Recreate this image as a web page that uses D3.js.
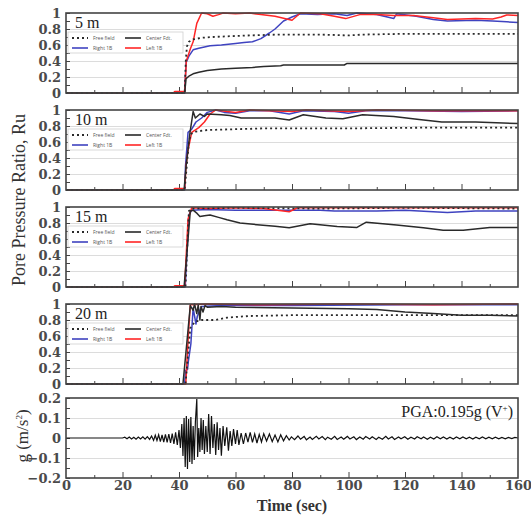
<!DOCTYPE html>
<meta charset="utf-8">
<script src="https://d3js.org/d3.v7.min.js"></script>
<style>
  body { margin: 0; background: #fff; }
  .tick text { font-family: "DejaVu Serif", serif; font-size: 13px; font-weight: bold; fill: #4a4a4a; }
</style>
<div id="chart"></div>
<script>

// time axis and labels
var timeTicks = [0, 20, 40, 60, 80, 100, 120, 140, 160];
var depths = ["5 m", "10 m", "15 m", "20 m"];
var ruTicks = [0, 0.2, 0.4, 0.6, 0.8, 1];
var accTicks = [-0.2, -0.1, 0, 0.1, 0.2];
var legendLabels = ["Free field", "Center Fdt.", "Right 1B", "Left 1B"];

// 5 m  [time (sec), Ru]
var ff5 = [[0,0],[42,0],[42.4,0.4],[42.8,0.58],[43.5,0.64],[45,0.67],[48,0.69],[52,0.7],[58,0.71],[65,0.72],[75,0.73],[90,0.73],[100,0.72],[105,0.73],[120,0.74],[140,0.74],[160,0.74]];
var cf5 = [[0,0],[42,0],[42.5,0.18],[43.5,0.21],[45,0.24],[47,0.26],[50,0.28],[55,0.3],[60,0.31],[66,0.32],[70,0.33],[76,0.34],[77,0.35],[98.5,0.35],[99.5,0.37],[160,0.37]];
var rb5 = [[0,0],[42,0],[42.5,0.38],[43.5,0.46],[45,0.54],[47,0.56],[51,0.59],[55,0.6],[60,0.62],[63,0.63],[66,0.64],[69,0.68],[72,0.75],[74,0.8],[77,0.9],[80,0.95],[83,0.99],[89,0.98],[95,0.99],[99.5,0.97],[103,1.0],[110,0.98],[116,0.93],[117,0.99],[124,0.96],[130,0.92],[135,0.9],[145,0.91],[151,0.9],[156,0.89],[160,0.88]];
var lb5 = [[0,0],[38,0],[38.5,0.02],[41.5,0.02],[42,0.01],[42.6,0.4],[44,0.55],[45,0.64],[46.3,0.87],[48,1.0],[50,0.99],[52,0.96],[54,0.98],[55.6,1.0],[60,0.99],[65,1.0],[69,0.98],[74,0.96],[80,0.91],[83,1.0],[90,0.99],[95,0.96],[99,0.93],[104,0.98],[110,0.98],[116,0.97],[123,0.97],[130,0.94],[135,0.92],[145,0.93],[151,0.925],[154,0.95],[156,0.975],[160,0.97]];

// 10 m
var ff10 = [[0,0],[42,0],[43.5,0.6],[44.2,0.7],[46,0.73],[50,0.75],[60,0.76],[70,0.77],[100,0.77],[130,0.78],[160,0.78]];
var cf10 = [[0,0],[41.8,0],[42.5,0.3],[43.9,0.72],[45,0.98],[45.8,0.9],[47.4,0.95],[49,0.92],[50,0.95],[55,0.94],[58,0.93],[62,0.9],[69,0.9],[74,0.9],[79,0.875],[84,0.94],[92,0.9],[98,0.89],[105,0.94],[116,0.92],[125,0.88],[133,0.85],[145,0.85],[160,0.83]];
var rb10 = [[0,0],[42,0],[42.3,0.3],[43.2,0.72],[44.5,0.76],[46,0.85],[48,0.9],[50,0.97],[53,1.0],[56,0.97],[60,0.96],[65,0.99],[72,0.99],[79,0.95],[84,0.99],[95,0.98],[100,0.96],[106,0.99],[120,0.99],[140,0.98],[160,0.99]];
var lb10 = [[0,0],[38,0],[38.5,0.02],[41.5,0.02],[42,0.01],[42.5,0.3],[43.2,0.5],[44.5,0.72],[47,0.78],[49,0.85],[51,0.95],[53,1.0],[57,0.98],[60,0.97],[65,1.0],[80,0.98],[85,1.0],[100,0.98],[110,1.0],[130,0.99],[160,0.99]];

// 15 m
var ff15 = [[0,0],[42.3,0],[43.5,0.95],[44.5,0.98],[60,0.99],[90,0.98],[120,0.99],[160,0.98]];
var cf15 = [[0,0],[41.8,0],[42.5,0.3],[44,0.95],[45,0.96],[46.4,0.92],[47.4,0.88],[49,0.89],[51,0.9],[54,0.87],[57,0.84],[61.6,0.8],[68.7,0.775],[74,0.76],[79,0.74],[86.4,0.79],[96,0.755],[103,0.745],[106.3,0.81],[117,0.775],[126.5,0.74],[133.5,0.71],[140.6,0.71],[150,0.745],[160,0.745]];
var rb15 = [[0,0],[42.2,0],[43.5,0.9],[44.5,0.96],[50,0.97],[60,0.96],[70,0.96],[90,0.96],[95,0.95],[110,0.95],[120,0.96],[135,0.93],[145,0.95],[160,0.95]];
var lb15 = [[0,0],[38,0],[38.5,0.015],[41.5,0.015],[42,0.01],[43.2,0.85],[44.5,0.99],[50,0.98],[60,0.99],[70,0.98],[79,0.94],[82,0.99],[100,0.99],[130,0.99],[160,0.99]];

// 20 m
var ff20 = [[0,0],[42.3,0],[44,0.7],[45.7,0.78],[48,0.8],[53,0.8],[57,0.83],[65,0.85],[80,0.86],[100,0.86],[130,0.86],[160,0.86]];
var cf20 = [[0,0],[41.4,0],[43,0.6],[44,0.98],[45,0.92],[45.5,1.0],[46.3,0.88],[46.8,0.99],[47.4,0.8],[47.8,0.97],[48.5,0.9],[49.2,0.98],[50,0.96],[55,0.97],[60,0.96],[80,0.95],[100,0.94],[110,0.93],[120,0.9],[130,0.88],[140,0.86],[150,0.86],[160,0.85]];
var rb20 = [[0,0],[42,0],[42.3,0.17],[43,0.18],[43.3,0.28],[44.2,0.5],[45,0.95],[46,0.75],[46.5,0.85],[48,0.97],[55,0.98],[80,0.98],[120,0.99],[160,0.99]];
var lb20 = [[0,0],[42.4,0],[43.3,0.6],[44,0.99],[50,1.0],[70,0.99],[100,1.0],[130,0.99],[160,1.0]];

// input acceleration [time (sec), g]
var accel = [[0,0],[20,0],[20.8,0.004],[21.6,-0.004],[22.4,0.005],[23.2,-0.005],[24,0.004],[24.8,-0.006],[25.6,0.005],[26.4,-0.005],[27.2,0.006],[28,-0.006],[28.8,0.007],[29.6,-0.007],
  [30.3,0.01],[31,-0.012],[31.6,0.014],[32.2,-0.012],[32.8,0.016],[33.4,-0.018],[34,0.015],[34.6,-0.02],[35.2,0.018],[35.8,-0.022],[36.4,0.02],[37,-0.025],[37.6,0.022],[38.2,-0.03],[38.8,0.028],[39.4,-0.035],
  [40,0.04],[40.5,-0.05],[41,0.07],[41.4,-0.09],[41.8,0.1],[42.2,-0.145],[42.6,0.11],[43,-0.155],[43.4,0.095],[43.8,-0.12],[44.2,0.105],[44.6,-0.13],[45,0.06],[45.4,-0.11],[45.8,0.08],[46.3,0.195],[46.6,-0.095],
  [47,0.05],[47.4,-0.07],[47.8,0.1],[48.2,-0.06],[48.6,0.09],[49,-0.08],[49.5,0.06],[50,-0.07],[50.5,0.12],[51,-0.08],[51.5,0.11],[52,-0.05],[52.5,0.07],[53,-0.085],[53.5,0.078],[54,-0.06],[54.5,0.05],[55,-0.088],
  [55.6,0.06],[56.2,-0.04],[56.9,0.053],[57.5,-0.063],[58.1,0.035],[58.7,-0.04],[59.3,0.045],[60,-0.03],[60.6,0.04],[61.2,-0.035],[62,0.025],[62.8,-0.03],[63.6,0.025],[64.4,-0.02],[65.2,0.028],[66,-0.022],
  [66.8,0.02],[67.6,-0.025],[68.4,0.018],[69.2,-0.02],[70,0.022],[71,-0.015],[72,0.02],[73,-0.018],[74,0.015],[75,-0.02],[76,0.016],[77,-0.014],[78,0.012],
  [79,-0.01],[79.8,0.006],[80.9,-0.008],[82.1,0.01],[83,-0.006],[84.3,0.008],[85.1,-0.009],[86.4,0.005],[87.2,-0.007],[88.6,0.009],[89.5,-0.005],[90.7,0.007],[91.8,-0.008],[92.6,0.004],[93.9,-0.006],[95.1,0.008],
  [96,-0.007],[97.4,0.005],[98.3,-0.006],[99.6,0.008],[100.5,-0.005],[101.9,0.006],[102.8,-0.008],[104,0.005],[105.2,-0.006],[106.1,0.007],[107.5,-0.005],[108.4,0.006],[109.8,-0.007],[110.7,0.004],
  [112,-0.006],[113.2,0.008],[114.1,-0.005],[115.4,0.006],[116.3,-0.007],[117.7,0.005],[118.6,-0.004],[119.9,0.006],[121,-0.006],[122.1,0.004],[123.4,-0.005],[124.3,0.006],[125.7,-0.004],[126.6,0.005],
  [127.9,-0.006],[129,0.004],[130.2,-0.005],[131.3,0.006],[132.5,-0.004],[133.6,0.005],[134.8,-0.005],[135.9,0.004],[137.1,-0.005],[138.2,0.005],[139.4,-0.004],[140.5,0.005],[141.7,-0.004],[142.8,0.004],
  [144,-0.005],[145.1,0.004],[146.3,-0.004],[147.4,0.005],[148.6,-0.004],[149.7,0.004],[150.9,-0.004],[152,0.004],[153.2,-0.004],[154.3,0.003],[155.5,-0.004],[156.6,0.003],[157.8,-0.003],[158.9,0.003],[160,0]];

var panels = [
  {label: depths[0], series: [ff5, cf5, rb5, lb5]},
  {label: depths[1], series: [ff10, cf10, rb10, lb10]},
  {label: depths[2], series: [ff15, cf15, rb15, lb15]},
  {label: depths[3], series: [ff20, cf20, rb20, lb20]}
];

// line styles: free field, center, right, left
var styles = [
  {stroke: "#2a2a2a", width: 1.8, dash: "2,3"},
  {stroke: "#2a2a2a", width: 1.5, dash: null},
  {stroke: "#3f43c0", width: 1.5, dash: null},
  {stroke: "#ff2626", width: 1.5, dash: null}
];
var drawOrder = [2, 3, 1, 0];

var W = 531, H = 519;
var left = 66, plotW = 452, plotH = 80;
var tops = [13, 110, 207, 304];
var accTop = 398;

var svg = d3.select("#chart").append("svg")
    .attr("width", W).attr("height", H);

var x = d3.scaleLinear().domain([0, 160]).range([left, left + plotW]);

function drawFrame(g, y, major, minor, grid) {
  // gridlines
  g.append("g")
      .attr("transform", "translate(" + left + ",0)")
      .call(d3.axisLeft(y).tickValues(grid).tickSize(-plotW).tickFormat(""))
      .call(function(a) { a.select(".domain").remove(); a.selectAll("line").attr("stroke", "#dcdcdc"); });
  // x ticks inside
  var y0 = y.range()[0];
  g.append("g")
      .attr("transform", "translate(0," + y0 + ")")
      .call(d3.axisTop(x).tickValues(d3.range(10, 160, 20)).tickSize(3).tickFormat(""))
      .call(function(a) { a.select(".domain").remove(); a.selectAll("line").attr("stroke", "#444"); });
  g.append("g")
      .attr("transform", "translate(0," + y0 + ")")
      .call(d3.axisTop(x).tickValues(timeTicks.slice(1, -1)).tickSize(6).tickFormat(""))
      .call(function(a) { a.select(".domain").remove(); a.selectAll("line").attr("stroke", "#444"); });
  // y ticks and labels
  g.append("g")
      .attr("transform", "translate(" + left + ",0)")
      .call(d3.axisLeft(y).tickValues(minor).tickSize(-4).tickFormat(""))
      .call(function(a) { a.select(".domain").remove(); a.selectAll("line").attr("stroke", "#444"); });
  g.append("g")
      .attr("transform", "translate(" + left + ",0)")
      .call(d3.axisLeft(y).tickValues(major).tickSize(-4).tickPadding(5).tickFormat(d3.format("")))
      .call(function(a) { a.select(".domain").remove(); a.selectAll("line").attr("stroke", "#444"); });
}

function drawBorder(g, yTop) {
  g.append("rect")
      .attr("x", left).attr("y", yTop)
      .attr("width", plotW).attr("height", plotH)
      .attr("fill", "none").attr("stroke", "#444").attr("stroke-width", 1.6);
}

panels.forEach(function(p, i) {
  var top = tops[i];
  var y = d3.scaleLinear().domain([0, 1]).range([top + plotH, top]);
  var g = svg.append("g");
  drawFrame(g, y, ruTicks, d3.range(0.1, 1, 0.2), [0.2, 0.4, 0.6, 0.8]);

  var line = d3.line().x(function(d) { return x(d[0]); }).y(function(d) { return y(d[1]); });
  drawOrder.forEach(function(k) {
    g.append("path")
        .datum(p.series[k])
        .attr("d", line)
        .attr("fill", "none")
        .attr("stroke", styles[k].stroke)
        .attr("stroke-width", styles[k].width)
        .attr("stroke-dasharray", styles[k].dash)
        .attr("stroke-linejoin", "round");
  });

  drawBorder(g, top);

  // depth label
  g.append("text")
      .attr("x", left + 9).attr("y", top + 15)
      .style("font-family", "Liberation Serif, serif")
      .style("font-size", "16px")
      .style("fill", "#222")
      .text(p.label);

  // legend
  var lg = g.append("g").attr("transform", "translate(" + (left + 2) + "," + (top + 19) + ")");
  lg.append("rect")
      .attr("width", 115).attr("height", 21)
      .attr("fill", "#fff").attr("stroke", "#cfcfcf").attr("stroke-width", 0.8);
  legendLabels.forEach(function(name, k) {
    var cx = 4 + (k % 2) * 53, cy = 6 + Math.floor(k / 2) * 10;
    lg.append("line")
        .attr("x1", cx).attr("x2", cx + 16).attr("y1", cy).attr("y2", cy)
        .attr("stroke", styles[k].stroke)
        .attr("stroke-width", k === 0 ? 1.8 : 1.6)
        .attr("stroke-dasharray", styles[k].dash);
    lg.append("text")
        .attr("x", cx + 21).attr("y", cy + 2)
        .style("font-family", "Open Sans, sans-serif")
        .style("font-size", "5px")
        .style("fill", "#555")
        .text(name);
  });
});

// acceleration panel
var ya = d3.scaleLinear().domain([-0.2, 0.2]).range([accTop + plotH, accTop]);
var ga = svg.append("g");
drawFrame(ga, ya, accTicks, [-0.15, -0.05, 0.05, 0.15], [-0.1, 0.1]);
ga.append("path")
    .datum(accel)
    .attr("d", d3.line().x(function(d) { return x(d[0]); }).y(function(d) { return ya(d[1]); }))
    .attr("fill", "none")
    .attr("stroke", "#111")
    .attr("stroke-width", 1.2);
drawBorder(ga, accTop);

ga.append("text")
    .attr("x", left + plotW - 5).attr("y", accTop + 19)
    .attr("text-anchor", "end")
    .style("font-family", "Liberation Serif, serif")
    .style("font-size", "16px")
    .style("fill", "#222")
    .text("PGA:0.195g (V")
    .append("tspan").attr("dy", -6).style("font-size", "9px").text("+")
    .select(function() { return this.parentNode; })
    .append("tspan").attr("dy", 6).text(")");

// x axis labels
svg.append("g")
    .attr("transform", "translate(0," + (accTop + plotH) + ")")
    .call(d3.axisBottom(x).tickValues(timeTicks).tickSize(0).tickPadding(3))
    .call(function(a) { a.select(".domain").remove(); });

svg.append("text")
    .attr("x", x(80)).attr("y", 511)
    .attr("text-anchor", "middle")
    .style("font-family", "Liberation Serif, serif")
    .style("font-size", "16px")
    .style("font-weight", "bold")
    .style("fill", "#333")
    .text("Time (sec)");

// y titles
svg.append("text")
    .attr("transform", "translate(25," + 200 + ") rotate(-90)")
    .attr("text-anchor", "middle")
    .style("font-family", "Liberation Serif, serif")
    .style("font-size", "18px")
    .style("fill", "#333")
    .text("Pore Pressure Ratio, Ru");

svg.append("text")
    .attr("transform", "translate(28," + 436 + ") rotate(-90)")
    .attr("text-anchor", "middle")
    .style("font-family", "Liberation Serif, serif")
    .style("font-size", "17px")
    .style("fill", "#333")
    .text("g (m/s")
    .append("tspan").attr("dy", -6).style("font-size", "9px").text("2")
    .select(function() { return this.parentNode; })
    .append("tspan").attr("dy", 6).text(")");

</script>
